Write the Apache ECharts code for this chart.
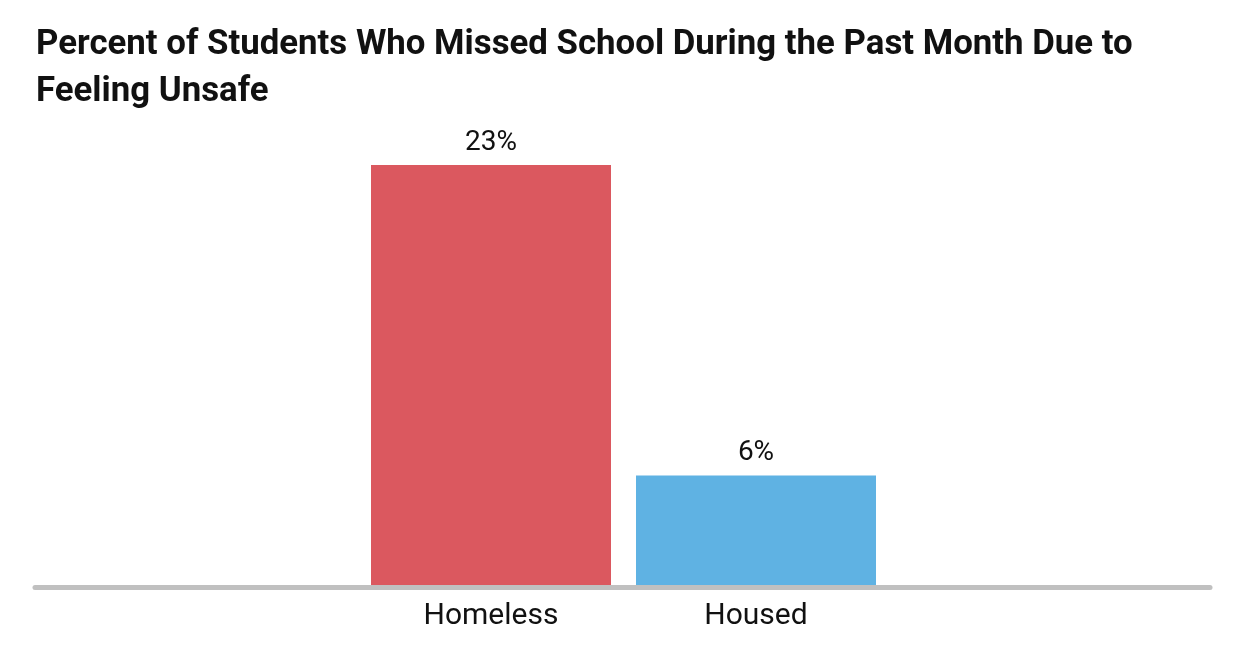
<!DOCTYPE html>
<html>
<head>
<meta charset="utf-8">
<script src="https://cdn.jsdelivr.net/npm/echarts@6/dist/echarts.min.js"></script>
<style>
  html, body { margin: 0; padding: 0; background: #fff; }
  #chart { width: 1250px; height: 672px; }
</style>
</head>
<body>
<div id="chart"></div>
<script>
// data
var titleText = 'Percent of Students Who Missed School During the Past Month Due to\nFeeling Unsafe';
var categories = ['Homeless', 'Housed'];
var values = [23, 6];
var barColors = ['#DB585F', '#5FB2E3'];

var fontFamily = '"Roboto", "Liberation Sans", sans-serif';

var myChart = echarts.init(document.getElementById('chart'));

var option = {
  backgroundColor: '#fff',
  animation: false,
  title: {
    text: titleText,
    left: 31,
    top: 17,
    textStyle: {
      fontFamily: fontFamily,
      fontSize: 34.8,
      fontWeight: 'bold',
      color: '#111',
      lineHeight: 47
    }
  },
  grid: [
    // bars
    { left: 358.5, right: 361.5, top: 128.5, bottom: 87 },
    // full width baseline
    { left: 35, right: 40, top: 128.5, bottom: 84.5 }
  ],
  xAxis: [
    {
      type: 'category',
      gridIndex: 0,
      data: categories,
      axisLine: { show: false },
      axisTick: { show: false },
      axisLabel: {
        margin: 16,
        fontFamily: fontFamily,
        fontSize: 30,
        color: '#111'
      }
    },
    {
      type: 'category',
      gridIndex: 1,
      data: [''],
      axisLine: { lineStyle: { color: '#C0C0C0', width: 5 } },
      axisTick: { show: false },
      axisLabel: { show: false }
    }
  ],
  yAxis: [
    { type: 'value', gridIndex: 0, min: 0, max: 25, show: false },
    { type: 'value', gridIndex: 1, min: 0, max: 25, show: false }
  ],
  series: [
    {
      type: 'bar',
      xAxisIndex: 0,
      yAxisIndex: 0,
      barWidth: 240,
      data: values.map(function (v, i) {
        return { value: v, itemStyle: { color: barColors[i] } };
      }),
      label: {
        show: true,
        position: 'top',
        distance: 8,
        formatter: '{c}%',
        fontFamily: fontFamily,
        fontSize: 28,
        color: '#111'
      }
    }
  ]
};

myChart.setOption(option);
</script>
</body>
</html>
